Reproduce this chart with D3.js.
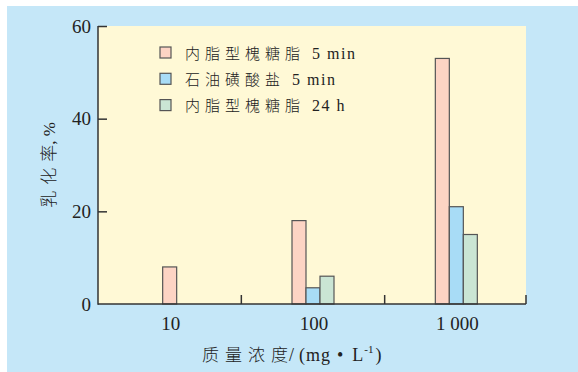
<!DOCTYPE html>
<html><head><meta charset="utf-8">
<script src="https://cdn.jsdelivr.net/npm/d3@7"></script>
<style>
html,body{margin:0;padding:0;background:#fff;}
svg{display:block;}
text{font-family:"Liberation Serif","Noto Sans CJK SC",serif;fill:#222;}
.cjk{font-family:"Noto Sans CJK SC",sans-serif;font-weight:300;}
</style></head>
<body>
<svg id="chart" width="578" height="372"></svg>
<script>
const categories = ["10", "100", "1 000"];
const seriesCJK = ["内脂型槐糖脂", "石油磺酸盐", "内脂型槐糖脂"];
const seriesLatin = ["5 min", "5 min", "24 h"];
const series1 = [8, 18, 53];     // 内脂型槐糖脂 5 min
const series2 = [null, 3.5, 21]; // 石油磺酸盐 5 min
const series3 = [null, 6, 15];   // 内脂型槐糖脂 24 h
const yTicks = [0, 20, 40, 60];
const colors = ["#fdd4c4", "#a8dcf6", "#cae5d4"];

(function () {
const svg = d3.select("#chart");
const W = 578, H = 372;
const mLeft = 98, mRight = 528, mTop = 26, mBottom = 304;

svg.append("rect").attr("x", 7).attr("y", 6).attr("width", W - 7).attr("height", H - 6).attr("fill", "#c5e7f8");
svg.append("rect").attr("x", mLeft).attr("y", mTop).attr("width", 526 - mLeft).attr("height", mBottom - mTop).attr("fill", "#fff9d6");

const x = d3.scaleBand().domain(categories).range([mLeft, mRight]).padding(0);
const y = d3.scaleLinear().domain([0, 60]).range([mBottom, mTop]);

const allSeries = [series1, series2, series3];
const barW = 14;
categories.forEach((c, i) => {
  const present = allSeries.map((s, k) => ({k, v: s[i]})).filter(d => d.v != null);
  const cx = x(c) + x.bandwidth() / 2;
  const start = cx - present.length * barW / 2;
  svg.selectAll(null).data(present).enter().append("rect")
    .attr("x", (d, j) => start + j * barW)
    .attr("y", d => y(d.v))
    .attr("width", barW)
    .attr("height", d => y(0) - y(d.v))
    .attr("fill", d => colors[d.k])
    .attr("stroke", "#555")
    .attr("stroke-width", 1.2);
});

// Y axis
const yAxis = svg.append("g").attr("transform", `translate(${mLeft},0)`)
  .call(d3.axisRight(y).tickValues(yTicks.filter(t => t > 0)).tickSize(9).tickFormat(""));
yAxis.select(".domain").remove();
yAxis.selectAll("line").attr("stroke", "#333").attr("stroke-width", 1.5);
svg.append("line").attr("x1", mLeft).attr("x2", mLeft).attr("y1", mTop).attr("y2", mBottom + 0.75)
  .attr("stroke", "#333").attr("stroke-width", 1.5);
svg.selectAll(".ytl").data(yTicks).enter().append("text")
  .attr("x", mLeft - 7).attr("y", d => y(d)).attr("dy", "0.35em")
  .attr("text-anchor", "end").attr("font-size", 19).text(d => d);

// X axis
svg.append("line").attr("x1", mLeft).attr("x2", 526).attr("y1", mBottom).attr("y2", mBottom)
  .attr("stroke", "#333").attr("stroke-width", 1.5);
const bounds = categories.map(c => x(c) + x.bandwidth()).map(v => Math.min(v, 526));
svg.selectAll(".xtk").data(bounds).enter().append("line")
  .attr("x1", d => d).attr("x2", d => d).attr("y1", mBottom).attr("y2", mBottom - 9)
  .attr("stroke", "#333").attr("stroke-width", 1.5);
svg.selectAll(".xtl").data(categories).enter().append("text")
  .attr("x", d => x(d) + x.bandwidth() / 2 + 1).attr("y", 330)
  .attr("text-anchor", "middle").attr("font-size", 19).text(d => d);

// X title
const xt = svg.append("text").attr("x", 202).attr("y", 361).attr("font-size", 18);
xt.append("tspan").attr("class", "cjk").attr("letter-spacing", 6).attr("font-size", 17).text("质量浓");
xt.append("tspan").attr("class", "cjk").attr("font-size", 17).text("度");
xt.append("tspan").attr("dx", 1).text("/");
xt.append("tspan").attr("dx", 5).attr("letter-spacing", 1).text("(mg");
xt.append("tspan").attr("dx", 6).text("•");
xt.append("tspan").attr("dx", 9).text("L");
xt.append("tspan").attr("font-size", 11).attr("dy", -8).attr("dx", 1).text("-1");
xt.append("tspan").attr("dy", 8).attr("dx", 2).text(")");

// Y title
const yt = svg.append("text").attr("transform", "translate(55,165) rotate(-90)")
  .attr("text-anchor", "middle").attr("font-size", 17);
yt.append("tspan").attr("class", "cjk").attr("letter-spacing", 6).text("乳化");
yt.append("tspan").attr("class", "cjk").text("率");
yt.append("tspan").text(", %");

// Legend
const lg = svg.selectAll(".lg").data(seriesCJK).enter().append("g")
  .attr("transform", (d, i) => `translate(160,${52.5 + i * 26.3})`);
lg.append("rect").attr("x", 0).attr("y", -5.5).attr("width", 11).attr("height", 11)
  .attr("fill", (d, i) => colors[i]).attr("stroke", "#555").attr("stroke-width", 1.2);
const lt = lg.append("text").attr("x", 25).attr("y", 6).attr("font-size", 16);
lt.append("tspan").attr("class", "cjk").attr("font-size", 15).attr("letter-spacing", 5).text(d => d);
lt.append("tspan").attr("dx", 7).attr("letter-spacing", 1.5).text((d, i) => seriesLatin[i]);
})();
</script>
</body></html>
